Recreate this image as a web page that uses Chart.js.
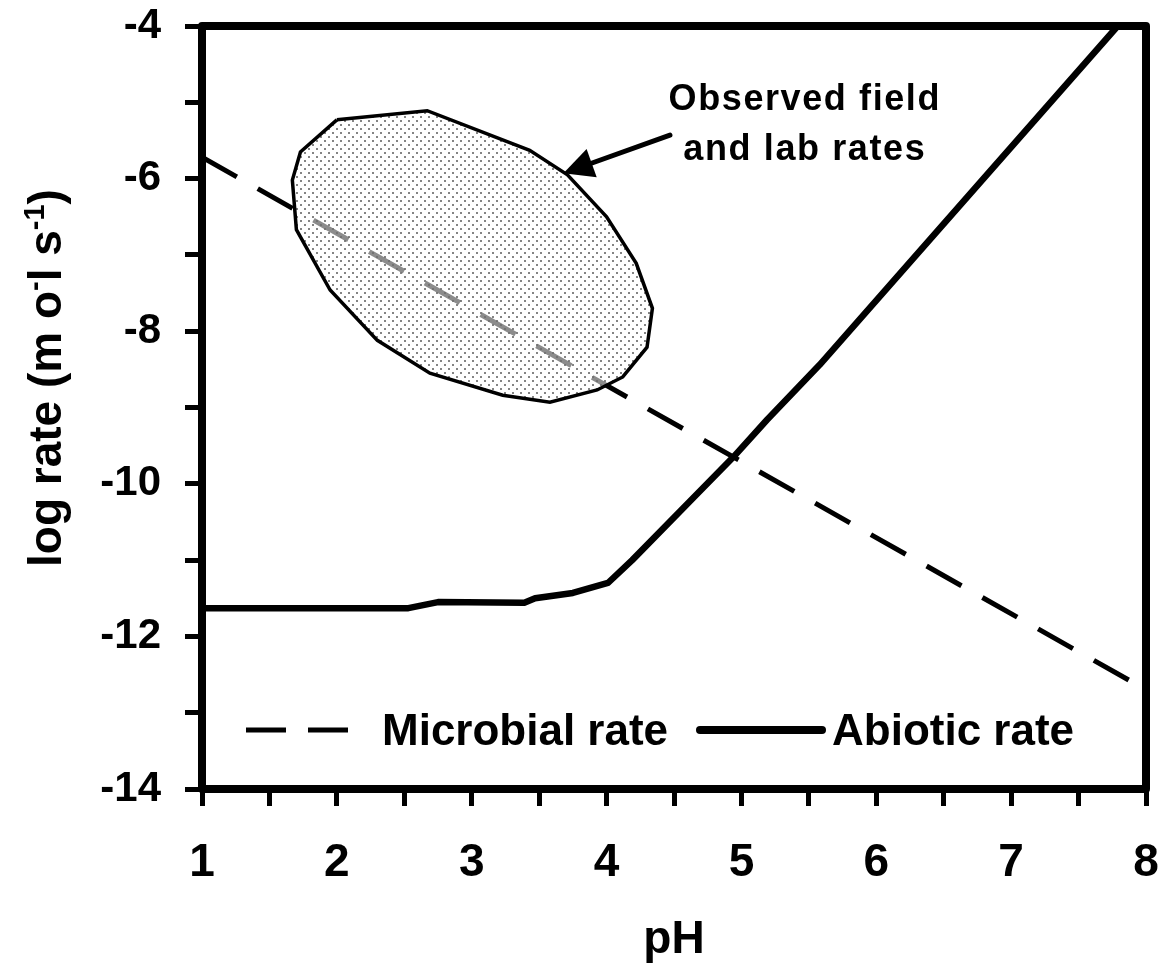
<!DOCTYPE html>
<html><head><meta charset="utf-8">
<script src="https://cdn.jsdelivr.net/npm/chart.js@4.4.0/dist/chart.umd.min.js"></script>
<style>html,body{margin:0;padding:0;background:#fff}#wrap{width:1160px;height:966px}</style>
</head><body><div id="wrap"><canvas id="c" width="1160" height="966"></canvas></div>
<script>
// ---- data ----
const xTickLabels = ['1','2','3','4','5','6','7','8'];
const yTickLabels = ['-14','-12','-10','-8','-6','-4'];
const seriesNames = ['Microbial rate', 'Abiotic rate'];
const microbialPH   = [1.00, 8.00];
const microbialRate = [-5.72, -12.70];
const abioticPH   = [1.00, 2.53, 2.75, 3.39, 3.47, 3.75, 4.01, 4.19, 4.64, 4.94, 5.19, 5.58, 7.79];
const abioticRate = [-11.63, -11.63, -11.55, -11.56, -11.50, -11.43, -11.30, -11.00, -10.19, -9.65, -9.16, -8.44, -4.00];
const observedPH   = [2.00, 2.67, 3.43, 3.71, 4.00, 4.22, 4.34, 4.30, 4.12, 3.93, 3.58, 3.23, 2.69, 2.30, 1.95, 1.70, 1.67, 1.73, 2.00];
const observedRate = [-5.23, -5.11, -5.63, -5.95, -6.50, -7.11, -7.70, -8.21, -8.60, -8.77, -8.93, -8.84, -8.55, -8.12, -7.46, -6.67, -6.02, -5.65, -5.23];
const noteLines = ['Observed field', 'and lab rates'];
const noteAnchor = {ph: 5.47, rate: [-5.10, -5.76]};
const arrowFrom = {ph: 4.47, rate: -5.43};
const arrowTo   = {ph: 3.68, rate: -5.93};
const xTitle = 'pH';
const yTitleParts = [['log rate (m o', false], ['-', true], ['l s', false], ['-1', true], [')', false]];

const FAM = '"Liberation Sans", Arial, sans-serif';
const toXY = (xs, ys) => xs.map((x, i) => ({x: x, y: ys[i]}));

// dotted fill pattern
const tile = document.createElement('canvas'); tile.width = 8; tile.height = 8;
const tc = tile.getContext('2d');
tc.fillStyle = 'rgba(255,255,255,0.55)'; tc.fillRect(0, 0, 8, 8);
tc.fillStyle = 'rgba(110,110,110,0.85)'; tc.fillRect(0, 0, 2, 2); tc.fillRect(4, 4, 2, 2);
const dotPattern = tc.createPattern(tile, 'repeat');

const framePlugin = {
  id: 'frame',
  afterDatasetsDraw(chart) {
    const {ctx, chartArea: a} = chart;
    ctx.save();
    ctx.strokeStyle = '#000'; ctx.lineWidth = 8; ctx.lineJoin = 'round';
    ctx.strokeRect(a.left, a.top, a.right - a.left, a.bottom - a.top);
    ctx.restore();
  }
};

const notePlugin = {
  id: 'note',
  afterDatasetsDraw(chart) {
    const {ctx, scales: {x, y}} = chart;
    ctx.save();
    ctx.fillStyle = '#000';
    ctx.font = 'bold 36px ' + FAM;
    ctx.textAlign = 'center'; ctx.textBaseline = 'alphabetic';
    try { ctx.letterSpacing = '1.6px'; } catch (e) {}
    const cx = x.getPixelForValue(noteAnchor.ph);
    noteLines.forEach((t, i) => ctx.fillText(t, cx, y.getPixelForValue(noteAnchor.rate[i])));
    try { ctx.letterSpacing = '0px'; } catch (e) {}
    // arrow
    const x0 = x.getPixelForValue(arrowFrom.ph), y0 = y.getPixelForValue(arrowFrom.rate);
    const x1 = x.getPixelForValue(arrowTo.ph), y1 = y.getPixelForValue(arrowTo.rate);
    const ang = Math.atan2(y1 - y0, x1 - x0);
    const hl = 30, hw = 15;
    const bx = x1 - hl * Math.cos(ang), by = y1 - hl * Math.sin(ang);
    ctx.strokeStyle = '#000'; ctx.lineWidth = 5; ctx.lineCap = 'round';
    ctx.beginPath(); ctx.moveTo(x0, y0); ctx.lineTo(bx + 4 * Math.cos(ang), by + 4 * Math.sin(ang)); ctx.stroke();
    ctx.beginPath();
    ctx.moveTo(x1, y1);
    ctx.lineTo(bx + hw * Math.sin(ang), by - hw * Math.cos(ang));
    ctx.lineTo(bx - hw * Math.sin(ang), by + hw * Math.cos(ang));
    ctx.closePath(); ctx.fill();
    ctx.restore();
  }
};

const legendPlugin = {
  id: 'insideLegend',
  afterDatasetsDraw(chart) {
    const {ctx, chartArea: a} = chart;
    const yc = a.bottom - 59;
    ctx.save();
    ctx.strokeStyle = '#000';
    ctx.lineWidth = 5; ctx.setLineDash([40, 22]); ctx.lineCap = 'butt';
    ctx.beginPath(); ctx.moveTo(a.left + 44, yc); ctx.lineTo(a.left + 150, yc); ctx.stroke();
    ctx.setLineDash([]);
    ctx.lineWidth = 8; ctx.lineCap = 'round';
    ctx.beginPath(); ctx.moveTo(a.left + 498, yc); ctx.lineTo(a.left + 620, yc); ctx.stroke();
    ctx.fillStyle = '#000';
    ctx.font = 'bold 44px ' + FAM;
    ctx.textAlign = 'left'; ctx.textBaseline = 'alphabetic';
    ctx.fillText(seriesNames[0], a.left + 180, yc + 15);
    ctx.fillText(seriesNames[1], a.left + 630, yc + 15);
    ctx.restore();
  }
};

const yTitlePlugin = {
  id: 'yTitle',
  afterDraw(chart) {
    const {ctx, chartArea: a} = chart;
    ctx.save();
    ctx.translate(61, a.top + 541);
    ctx.rotate(-Math.PI / 2);
    ctx.fillStyle = '#000'; ctx.textAlign = 'left'; ctx.textBaseline = 'alphabetic';
    let cx = 0;
    yTitleParts.forEach(([t, sup]) => {
      ctx.font = sup ? 'bold 29px ' + FAM : 'bold 46px ' + FAM;
      ctx.fillText(t, cx, sup ? -17 : 0);
      cx += ctx.measureText(t).width;
    });
    ctx.restore();
  }
};

new Chart(document.getElementById('c'), {
  type: 'scatter',
  data: {
    datasets: [
      {label: 'Observed field and lab rates', data: toXY(observedPH, observedRate), showLine: true,
       borderColor: '#000', borderWidth: 3.5, backgroundColor: dotPattern, fill: 'shape',
       pointRadius: 0, tension: 0, order: 1},
      {label: seriesNames[1], data: toXY(abioticPH, abioticRate), showLine: true,
       borderColor: '#000', borderWidth: 6.5, pointRadius: 0, tension: 0, fill: false,
       borderJoinStyle: 'round', order: 2},
      {label: seriesNames[0], data: toXY(microbialPH, microbialRate), showLine: true,
       borderColor: '#000', borderWidth: 5, borderDash: [40, 24], pointRadius: 0, tension: 0, fill: false,
       order: 3}
    ]
  },
  options: {
    responsive: false, animation: false, devicePixelRatio: 1,
    layout: {padding: {top: 26, right: 14, left: 0, bottom: 0}},
    plugins: {legend: {display: false}, tooltip: {enabled: false}},
    scales: {
      x: {
        type: 'linear', position: 'bottom', min: 1, max: 8,
        border: {display: false},
        grid: {drawOnChartArea: false, drawTicks: true, tickLength: 17, tickWidth: 5, tickColor: '#000'},
        ticks: {stepSize: 0.5, padding: 30, color: '#000', autoSkip: false, maxRotation: 0,
          font: {family: FAM, size: 46, weight: 'bold'},
          callback: (v) => Number.isInteger(v) ? xTickLabels[v - 1] : ''},
        title: {display: true, text: xTitle, color: '#000', padding: 0,
          font: {family: FAM, size: 46, weight: 'bold', lineHeight: 1.1}},
        afterFit: (s) => { s.height = 177; s.paddingLeft = 0; s.paddingRight = 0; }
      },
      y: {
        type: 'linear', min: -14, max: -4,
        border: {display: false},
        grid: {drawOnChartArea: false, drawTicks: true, tickLength: 17, tickWidth: 5, tickColor: '#000'},
        ticks: {stepSize: 1, padding: 24, color: '#000', autoSkip: false,
          font: {family: FAM, size: 42, weight: 'bold'},
          callback: (v) => (Math.round(v) % 2 === 0) ? yTickLabels[Math.round((v + 14) / 2)] : ''},
        afterFit: (s) => { s.width = 202; s.paddingTop = 0; s.paddingBottom = 0; }
      }
    }
  },
  plugins: [framePlugin, notePlugin, legendPlugin, yTitlePlugin]
});
</script>
</body></html>
